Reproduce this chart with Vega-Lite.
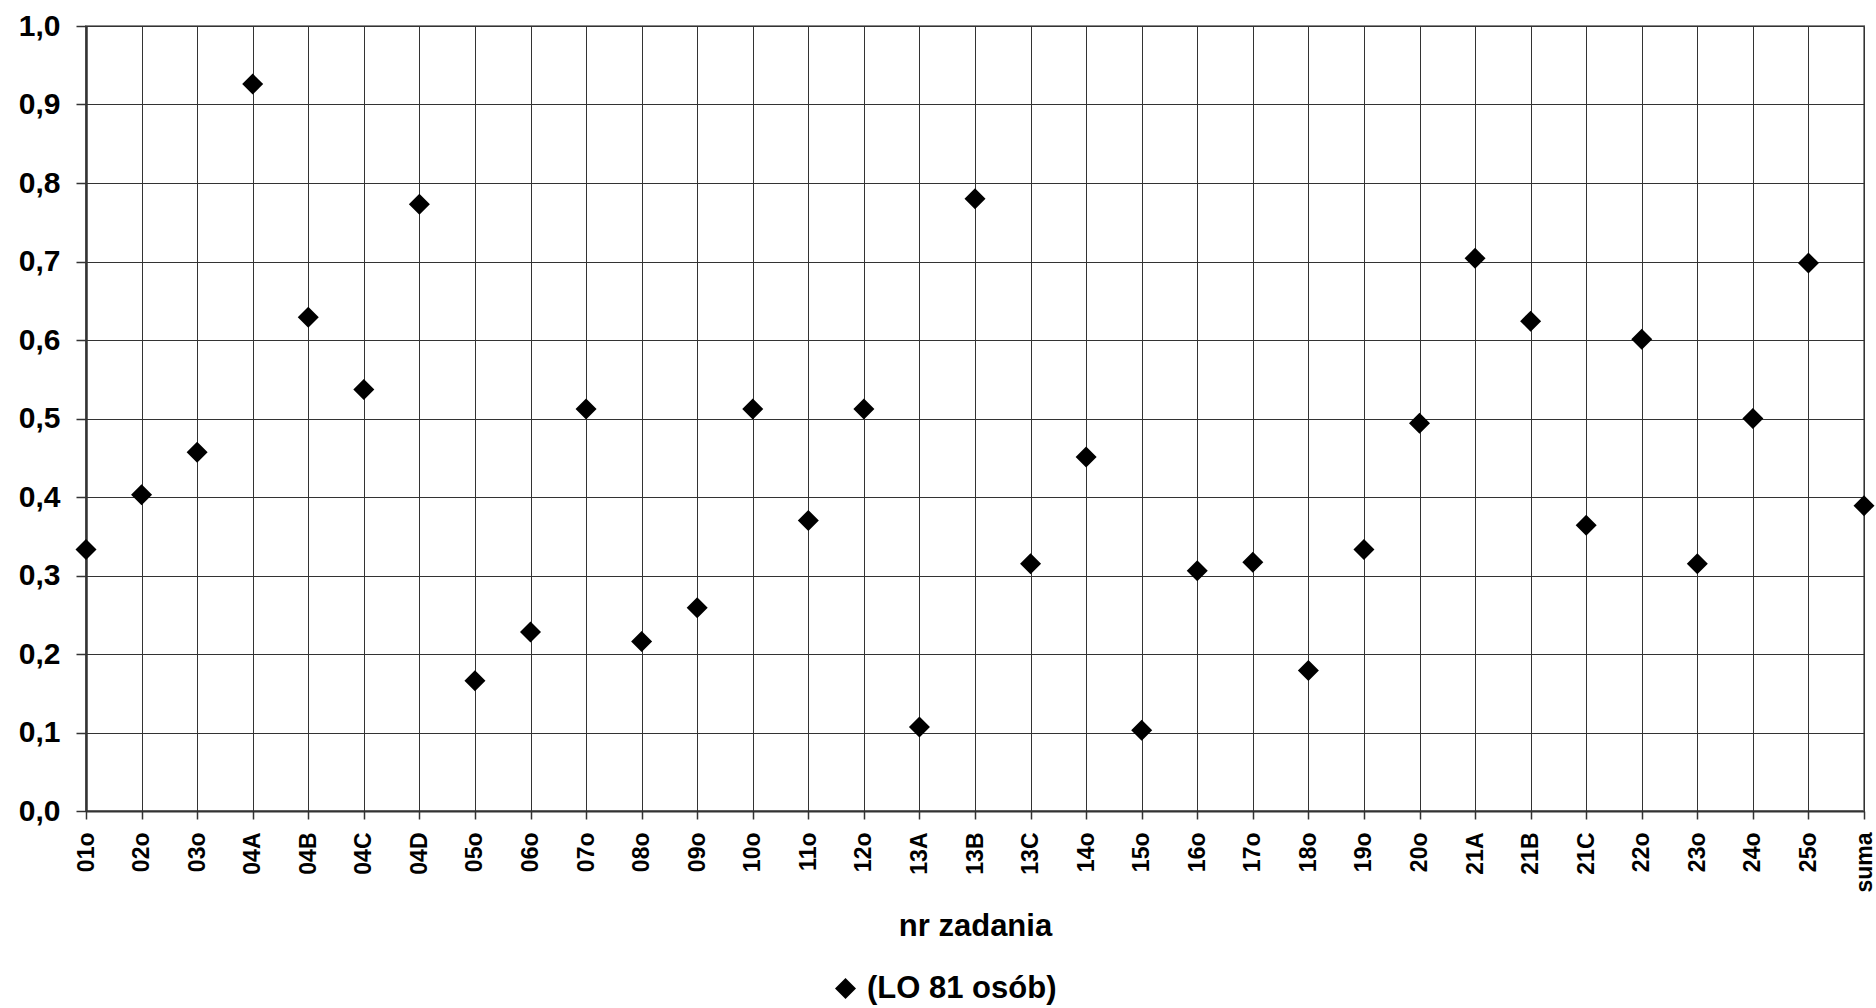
{
  "$schema": "https://vega.github.io/schema/vega-lite/v6.json",
  "width": 1778,
  "height": 785,
  "autosize": {"type": "none"},
  "padding": {"left": 86, "top": 26, "right": 12, "bottom": 197},
  "background": "white",
  "config": {
    "font": "Liberation Sans",
    "view": {"stroke": "#888888", "strokeWidth": 2}
  },
  "data": {
    "values": [
      {"task": "01o", "value": 0.333, "series": "(LO 81 osób)"},
      {"task": "02o", "value": 0.403, "series": "(LO 81 osób)"},
      {"task": "03o", "value": 0.457, "series": "(LO 81 osób)"},
      {"task": "04A", "value": 0.926, "series": "(LO 81 osób)"},
      {"task": "04B", "value": 0.629, "series": "(LO 81 osób)"},
      {"task": "04C", "value": 0.537, "series": "(LO 81 osób)"},
      {"task": "04D", "value": 0.773, "series": "(LO 81 osób)"},
      {"task": "05o", "value": 0.166, "series": "(LO 81 osób)"},
      {"task": "06o", "value": 0.228, "series": "(LO 81 osób)"},
      {"task": "07o", "value": 0.512, "series": "(LO 81 osób)"},
      {"task": "08o", "value": 0.216, "series": "(LO 81 osób)"},
      {"task": "09o", "value": 0.259, "series": "(LO 81 osób)"},
      {"task": "10o", "value": 0.512, "series": "(LO 81 osób)"},
      {"task": "11o", "value": 0.370, "series": "(LO 81 osób)"},
      {"task": "12o", "value": 0.512, "series": "(LO 81 osób)"},
      {"task": "13A", "value": 0.107, "series": "(LO 81 osób)"},
      {"task": "13B", "value": 0.780, "series": "(LO 81 osób)"},
      {"task": "13C", "value": 0.315, "series": "(LO 81 osób)"},
      {"task": "14o", "value": 0.451, "series": "(LO 81 osób)"},
      {"task": "15o", "value": 0.103, "series": "(LO 81 osób)"},
      {"task": "16o", "value": 0.306, "series": "(LO 81 osób)"},
      {"task": "17o", "value": 0.317, "series": "(LO 81 osób)"},
      {"task": "18o", "value": 0.179, "series": "(LO 81 osób)"},
      {"task": "19o", "value": 0.333, "series": "(LO 81 osób)"},
      {"task": "20o", "value": 0.494, "series": "(LO 81 osób)"},
      {"task": "21A", "value": 0.704, "series": "(LO 81 osób)"},
      {"task": "21B", "value": 0.624, "series": "(LO 81 osób)"},
      {"task": "21C", "value": 0.364, "series": "(LO 81 osób)"},
      {"task": "22o", "value": 0.601, "series": "(LO 81 osób)"},
      {"task": "23o", "value": 0.315, "series": "(LO 81 osób)"},
      {"task": "24o", "value": 0.500, "series": "(LO 81 osób)"},
      {"task": "25o", "value": 0.698, "series": "(LO 81 osób)"},
      {"task": "suma", "value": 0.389, "series": "(LO 81 osób)"}
    ]
  },
  "mark": {"type": "point", "filled": true, "size": 441, "opacity": 1},
  "encoding": {
    "x": {
      "field": "task",
      "type": "nominal",
      "sort": null,
      "scale": {"type": "point", "padding": 0},
      "axis": {
        "title": "nr zadania",
        "titleFontSize": 31,
        "titleFontWeight": "bold",
        "titleColor": "black",
        "titleBaseline": "alphabetic",
        "titleY": 124,
        "labelAngle": -90,
        "labelAlign": "right",
        "labelBaseline": "middle",
        "labelFontSize": 23,
        "labelFontWeight": "bold",
        "labelColor": "black",
        "labelPadding": 13,
        "tickSize": 8,
        "tickColor": "#333333",
        "tickWidth": 1.5,
        "domainColor": "#333333",
        "domainWidth": 2,
        "grid": true,
        "gridColor": "#333333",
        "gridWidth": 1,
        "labelOverlap": false
      }
    },
    "y": {
      "field": "value",
      "type": "quantitative",
      "scale": {"domain": [0, 1], "nice": false, "zero": true},
      "axis": {
        "title": null,
        "values": [0, 0.1, 0.2, 0.3, 0.4, 0.5, 0.6, 0.7, 0.8, 0.9, 1.0],
        "labelExpr": "replace(format(datum.value, '.1f'), '.', ',')",
        "labelFontSize": 30,
        "labelFontWeight": "bold",
        "labelColor": "black",
        "labelPadding": 16,
        "labelBaseline": "middle",
        "tickSize": 10,
        "tickColor": "#333333",
        "tickWidth": 1.5,
        "domainColor": "#333333",
        "domainWidth": 2.5,
        "grid": true,
        "gridColor": "#333333",
        "gridWidth": 1
      }
    },
    "color": {
      "field": "series",
      "type": "nominal",
      "scale": {"range": ["black"]},
      "legend": {
        "title": null,
        "orient": "none",
        "legendX": 744,
        "legendY": 947,
        "padding": 0,
        "symbolType": "diamond",
        "symbolSize": 441,
        "labelFontSize": 31,
        "labelFontWeight": "bold",
        "labelColor": "black",
        "labelOffset": 6,
        "labelLimit": 0
      }
    },
    "shape": {
      "field": "series",
      "type": "nominal",
      "scale": {"range": ["diamond"]},
      "legend": {
        "title": null,
        "orient": "none",
        "legendX": 744,
        "legendY": 947,
        "padding": 0,
        "symbolType": "diamond",
        "symbolSize": 441,
        "labelFontSize": 31,
        "labelFontWeight": "bold",
        "labelColor": "black",
        "labelOffset": 6,
        "labelLimit": 0
      }
    }
  }
}
